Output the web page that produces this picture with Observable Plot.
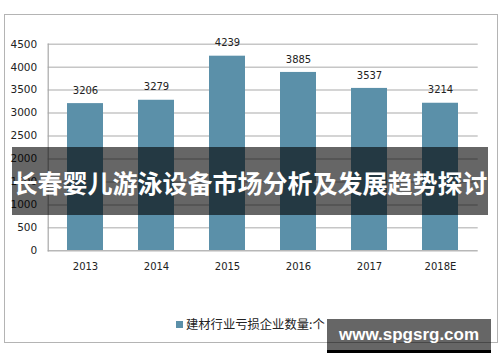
<!DOCTYPE html>
<html>
<head>
<meta charset="utf-8">
<script src="https://cdn.jsdelivr.net/npm/d3@7"></script>
<script src="https://cdn.jsdelivr.net/npm/@observablehq/plot@0.6"></script>
<style>
  html, body { margin: 0; padding: 0; background: #fff; }
  #wrap { position: relative; width: 500px; height: 362px; overflow: hidden; background: #fff; }
  #wrap svg { position: absolute; left: 0; top: 0; }
  .box { position: absolute; left: 4px; top: 14px; width: 492px; height: 327px; border: 1.5px solid #b4b4b4; box-sizing: content-box; pointer-events: none; }
  .banner { position: absolute; left: 12px; top: 147px; width: 476px; height: 68px; background: rgba(0,0,0,0.6);
            color: #fff; font-family: "Noto Sans CJK SC", sans-serif; font-weight: bold; font-size: 25px;
            line-height: 70px; text-align: center; white-space: nowrap; letter-spacing: 0px; }
  .legend { position: absolute; left: 176px; top: 314px; height: 20px; display: flex; align-items: center;
            font-family: "Noto Sans CJK SC", sans-serif; font-size: 12.3px; color: #222; white-space: nowrap; }
  .legend .sw { width: 7px; height: 7px; background: #5b90a9; margin-right: 3px; }
  .wm { position: absolute; left: 327px; top: 319px; width: 164px; height: 31px; background: rgba(0,0,0,0.6);
        color: #fff; font-family: "Liberation Sans", Arial, sans-serif; font-weight: bold; font-size: 17px;
        line-height: 31px; text-align: center; white-space: nowrap; }
  .wm::after { content: ""; position: absolute; left: 0; right: 0; top: 31px; height: 3px; background: #000; }
</style>
</head>
<body>
<div id="wrap"></div>
<script>
const years = ["2013", "2014", "2015", "2016", "2017", "2018E"];
const counts = [3206, 3279, 4239, 3885, 3537, 3214];
const yTicks = [0, 500, 1000, 1500, 2000, 2500, 3000, 3500, 4000, 4500];
const title = "长春婴儿游泳设备市场分析及发展趋势探讨";
const seriesName = "建材行业亏损企业数量:个";
const watermark = "www.spgsrg.com";

const data = years.map((y, i) => ({year: y, value: counts[i]}));

const chart = Plot.plot({
  width: 500,
  height: 362,
  marginLeft: 47.7,
  marginRight: 22.3,
  marginTop: 43.7,
  marginBottom: 111.7,
  style: {fontFamily: "DejaVu Sans, sans-serif", fontSize: "10px", background: "#fff", color: "#222"},
  x: {domain: years, paddingInner: 0.5, paddingOuter: 0.25, label: null},
  y: {domain: [0, 4500], label: null},
  marks: [
    Plot.ruleY(yTicks.filter(d => d > 0), {stroke: "#c6c6c6", strokeWidth: 1.5}),
    Plot.barY(data, {x: "year", y: "value", fill: "#5b90a9"}),
    Plot.ruleY([0], {stroke: "#b8b8b8", strokeWidth: 1.5}),
    Plot.frame({anchor: "left", stroke: "#a8a8a8", strokeWidth: 1.2}),
    Plot.text(data, {x: "year", y: "value", text: d => String(d.value), dy: -13, fill: "#222", fontSize: 10}),
    Plot.axisY({ticks: yTicks, tickSize: 0, tickPadding: 11, tickFormat: d => String(d), fontSize: 10.5, fill: "#222"}),
    Plot.axisX({tickSize: 0, tickPadding: 12, fontSize: 10, fill: "#222"})
  ]
});

const wrap = document.getElementById("wrap");
wrap.appendChild(chart);

const box = document.createElement("div");
box.className = "box";
wrap.appendChild(box);

const legend = document.createElement("div");
legend.className = "legend";
const sw = document.createElement("span");
sw.className = "sw";
const lt = document.createElement("span");
lt.textContent = seriesName;
legend.appendChild(sw);
legend.appendChild(lt);
wrap.appendChild(legend);

const banner = document.createElement("div");
banner.className = "banner";
banner.textContent = title;
wrap.appendChild(banner);

const wm = document.createElement("div");
wm.className = "wm";
wm.textContent = watermark;
wrap.appendChild(wm);
</script>
</body>
</html>
